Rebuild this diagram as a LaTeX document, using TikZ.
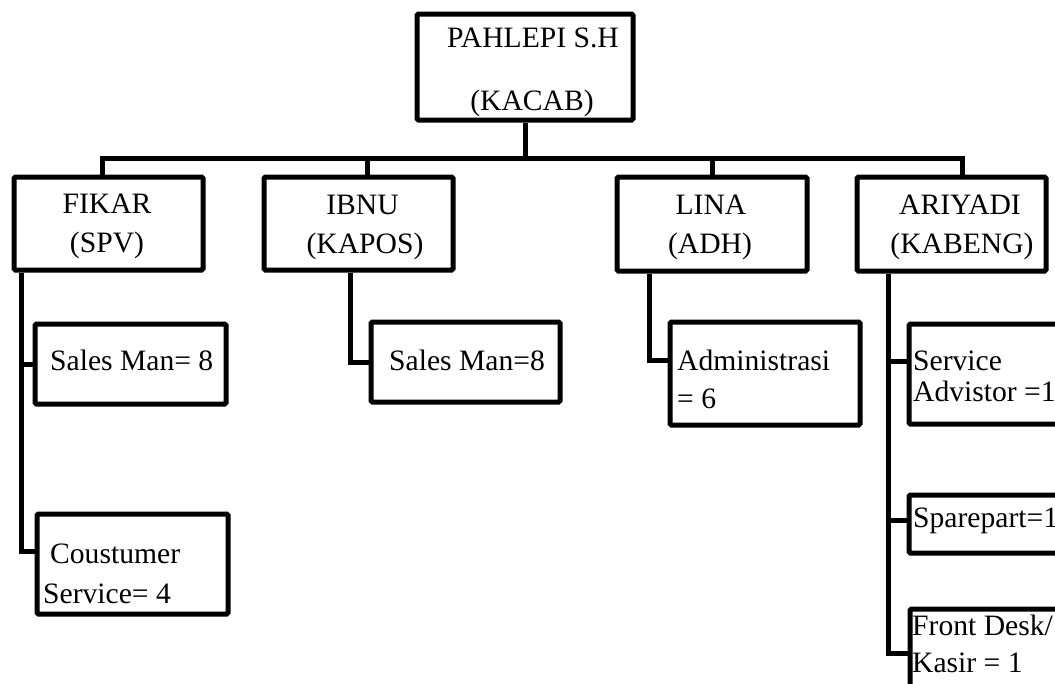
\documentclass[tikz,border=0pt]{standalone}
\usepackage{fontspec}
\setmainfont{Liberation Serif}
\begin{document}
\begin{tikzpicture}[x=1pt,y=-1pt,
  box/.style={draw=black, line width=5pt, fill=white, rounded corners=1.5pt, inner sep=0pt},
  conn/.style={draw=black, line width=5pt},
  txt/.style={inner sep=0pt, font=\fontsize{29.6}{34}\selectfont}]
\useasboundingbox (0,0) rectangle (1055,683);
\clip (0,0) rectangle (1055,683);
% boxes
\node[box, minimum width=216, minimum height=106] (b0) at (525,67) {};
\node[box, minimum width=189, minimum height=93] (fikar) at (108.5,223.5) {};
\node[box, minimum width=189, minimum height=93] (ibnu) at (358.5,223.5) {};
\node[box, minimum width=190, minimum height=94] (lina) at (712,224) {};
\node[box, minimum width=189, minimum height=94] (ariyadi) at (951.5,224) {};
\node[box, minimum width=191, minimum height=80] (sm1) at (130.5,364) {};
\node[box, minimum width=191, minimum height=100] (cs) at (132.5,564) {};
\node[box, minimum width=189, minimum height=80] (sm2) at (465.5,362) {};
\node[box, minimum width=190, minimum height=103] (adm) at (765,373.5) {};
\node[box, minimum width=189, minimum height=100] (sa) at (1003.5,374) {};
\node[box, minimum width=189, minimum height=58] (sp) at (1003.5,524) {};
\node[box, minimum width=188, minimum height=89] (fd) at (1004,653.5) {};
% texts
\node[txt, anchor=base] (t0a) at (533,47) {PAHLEPI S.H};
\node[txt, anchor=base] (t0b) at (532,110) {(KACAB)};
\node[txt, anchor=base] (t1a) at (107,213) {FIKAR};
\node[txt, anchor=base] (t1b) at (107,252) {(SPV)};
\node[txt, anchor=base] (t2a) at (362.5,214) {IBNU};
\node[txt, anchor=base] (t2b) at (365,253) {(KAPOS)};
\node[txt, anchor=base] (t3a) at (711,214) {LINA};
\node[txt, anchor=base] (t3b) at (710,253) {(ADH)};
\node[txt, anchor=base] (t4a) at (960,214) {ARIYADI};
\node[txt, anchor=base] (t4b) at (962,253) {(KABENG)};
\node[txt, anchor=base west] (t5) at (50,370) {Sales Man= 8};
\node[txt, anchor=base west] (t6a) at (50,563) {Coustumer};
\node[txt, anchor=base west] (t6b) at (43,603) {Service= 4};
\node[txt, anchor=base west] (t7) at (389,370) {Sales Man=8};
\node[txt, anchor=base west] (t8a) at (677,370) {Administrasi};
\node[txt, anchor=base west] (t8b) at (677,408) {= 6};
\node[txt, anchor=base west] (t9a) at (913,370) {Service};
\node[txt, anchor=base west] (t9b) at (913,401) {Advistor =1};
\node[txt, anchor=base west] (t10) at (913,527) {Sparepart=1};
\node[txt, anchor=base west] (t11a) at (912,635) {Front Desk/};
\node[txt, anchor=base west] (t11b) at (912,672) {Kasir = 1};
% top connectors
\coordinate (bus) at (525,158);
\coordinate (ibtop) at ([xshift=8.5pt]ibnu.north);
\draw[conn] ([xshift=-6.5pt]fikar.north) |- (bus) -| ([xshift=10.5pt]ariyadi.north);
\draw[conn] (b0.south) -- (bus);
\draw[conn] (ibtop) -- (ibtop |- bus);
\draw[conn] (lina.north) -- (lina.north |- bus);
% FIKAR
\coordinate (fv) at ([xshift=10pt]fikar.south west);
\draw[conn] (fv) |- ([yshift=13pt]cs.west);
\draw[conn] (sm1.west) -- (sm1.west -| fv);
% IBNU
\draw[conn] ([xshift=-8.5pt]ibnu.south) |- (sm2.west);
% LINA
\draw[conn] ([xshift=35pt]lina.south west) |- ([yshift=13pt]adm.west);
% ARIYADI
\coordinate (av) at ([xshift=34pt]ariyadi.south west);
\coordinate (saw) at ([yshift=13pt]sa.west);
\coordinate (spw) at ([yshift=4pt]sp.west);
\draw[conn] (av) |- (fd.west);
\draw[conn] (saw) -- (saw -| av);
\draw[conn] (spw) -- (spw -| av);
\end{tikzpicture}
\end{document}
